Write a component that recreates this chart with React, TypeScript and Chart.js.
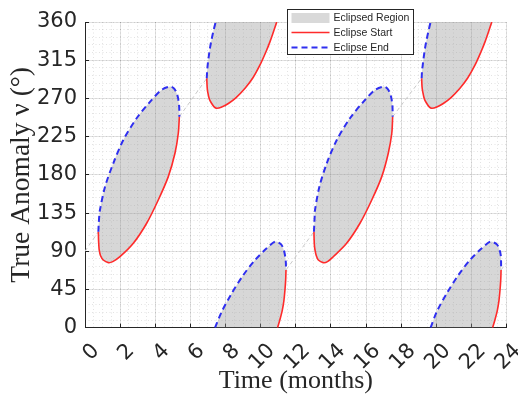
import React, { useEffect, useRef } from "react";
import { Chart, registerables } from "chart.js";

Chart.register(...registerables);

type P = [number, number];

// Axis ticks
const xTickValues = [0, 2, 4, 6, 8, 10, 12, 14, 16, 18, 20, 22, 24];
const yTickValues = [0, 45, 90, 135, 180, 225, 270, 315, 360];

// Eclipse region 1 (year 1)
const start1: P[] = [[0.76, 113], [0.77, 104], [0.79, 96], [0.81, 91.5], [0.88, 85], [1.04, 79.7], [1.33, 76.6], [1.58, 77.8], [1.99, 83.6], [2.75, 99.4], [3.51, 123], [4.17, 150.4], [4.74, 177.9], [5.12, 205.4], [5.31, 229], [5.37, 248.5]];
const end1: P[] = [[0.76, 113], [0.78, 122], [0.81, 131], [0.85, 138.6], [1.14, 166], [1.61, 193.6], [2.18, 221], [2.94, 246.6], [3.7, 266], [4.36, 280], [4.84, 283.9], [5.05, 282], [5.2, 277], [5.3, 270], [5.36, 260], [5.37, 248.5]];

// Eclipse region 2 (wraps through 360 -> 0)
const start2Top: P[] = [[6.93, 293.7], [6.95, 284], [6.98, 278], [7.08, 269], [7.21, 264], [7.35, 260], [7.49, 258.4], [7.75, 259.5], [8.16, 264], [8.6, 271], [9.11, 282], [9.55, 294], [9.96, 309.4], [10.3, 325], [10.53, 336.9], [10.75, 350], [10.91, 360]];
const end2Top: P[] = [[6.93, 293.7], [6.95, 302], [6.98, 309], [7.04, 319], [7.11, 329], [7.2, 339], [7.3, 348.6], [7.44, 360]];
const end2Bot: P[] = [[7.4, 0], [7.78, 18.8], [8.35, 40.5], [9.01, 62], [9.68, 79.7], [10.34, 93.5], [10.81, 101.3], [11.0, 100.5], [11.19, 97.4], [11.32, 91], [11.38, 85.6], [11.43, 77], [11.44, 68]];
const start2Bot: P[] = [[11.44, 68], [11.42, 56], [11.38, 44.4], [11.32, 32], [11.23, 20.8], [11.1, 10], [10.96, 0]];

// Eclipse region 3 (year 2)
const start3: P[] = [[13.03, 113], [13.04, 104], [13.06, 96], [13.09, 91.5], [13.16, 85], [13.28, 79.7], [13.56, 76.6], [13.8, 77.8], [14.13, 83.6], [14.89, 99.4], [15.65, 123], [16.32, 150.4], [16.89, 177.9], [17.26, 205.4], [17.46, 229], [17.51, 248.5]];
const end3: P[] = [[13.03, 113], [13.05, 122], [13.07, 131], [13.09, 138.6], [13.34, 166], [13.76, 193.6], [14.33, 221], [15.08, 246.6], [15.84, 266], [16.51, 280], [16.98, 283.9], [17.19, 282], [17.34, 277], [17.44, 270], [17.5, 260], [17.51, 248.5]];

// Eclipse region 4 (wraps through 360 -> 0)
const start4Top: P[] = [[19.16, 293.7], [19.18, 284], [19.22, 278], [19.32, 269], [19.45, 264], [19.59, 260], [19.73, 258.4], [19.99, 259.5], [20.39, 264], [20.83, 271], [21.34, 282], [21.78, 294], [22.2, 309.4], [22.54, 325], [22.77, 336.9], [22.99, 350], [23.15, 360]];
const end4Top: P[] = [[19.16, 293.7], [19.18, 302], [19.22, 309], [19.28, 319], [19.35, 329], [19.44, 339], [19.54, 348.6], [19.67, 360]];
const end4Bot: P[] = [[19.67, 0], [20.02, 18.8], [20.59, 40.5], [21.25, 62], [21.91, 79.7], [22.58, 93.5], [23.05, 101.3], [23.25, 100.5], [23.47, 97.4], [23.6, 91], [23.66, 85.6], [23.68, 77], [23.68, 68]];
const start4Bot: P[] = [[23.68, 68], [23.66, 56], [23.62, 44.4], [23.56, 32], [23.47, 20.8], [23.34, 10], [23.2, 0]];

// Orbit track (visible between eclipse regions)
const trackA: P[] = [[0, 90], [0.76, 113]];
const trackB: P[] = [[5.37, 248.5], [6.93, 293.7]];
const trackC: P[] = [[11.44, 68], [13.03, 113]];
const trackD: P[] = [[17.51, 248.5], [19.16, 293.7]];
const trackE: P[] = [[23.68, 68], [24, 77]];

const RED = "#ff2b2b";
const BLUE = "#2f2ff0";
const FILL = "rgba(150,150,150,0.38)";
const AXIS = "#262626";

const pts = (a: P[]) => a.map(([x, y]) => ({ x, y }));

const legendPlugin = {
  id: "boxLegend",
  afterDraw(chart: any) {
    const ctx = chart.ctx as CanvasRenderingContext2D;
    const x0 = 287.5, y0 = 9.5, w = 126, h = 45;
    ctx.save();
    ctx.fillStyle = "#ffffff";
    ctx.fillRect(x0, y0, w, h);
    ctx.strokeStyle = AXIS;
    ctx.lineWidth = 1;
    ctx.setLineDash([]);
    ctx.strokeRect(x0, y0, w, h);
    const sx = x0 + 4, ex = x0 + 42;
    ctx.fillStyle = "#d9d9d9";
    ctx.fillRect(sx, y0 + 3.5, ex - sx, 10);
    ctx.strokeStyle = RED;
    ctx.lineWidth = 1.6;
    ctx.beginPath();
    ctx.moveTo(sx, y0 + 23);
    ctx.lineTo(ex, y0 + 23);
    ctx.stroke();
    ctx.strokeStyle = BLUE;
    ctx.lineWidth = 2;
    ctx.setLineDash([6, 4]);
    ctx.beginPath();
    ctx.moveTo(sx, y0 + 38);
    ctx.lineTo(ex, y0 + 38);
    ctx.stroke();
    ctx.setLineDash([]);
    ctx.fillStyle = AXIS;
    ctx.font = '10.5px "Liberation Sans", Arial, sans-serif';
    ctx.textBaseline = "middle";
    ctx.textAlign = "left";
    const labels = ["Eclipsed Region", "Eclipse Start", "Eclipse End"];
    labels.forEach((t, i) => ctx.fillText(t, ex + 4, y0 + 8.5 + i * 15));
    ctx.restore();
  },
};

const zeroPad = (s: any) => {
  s.paddingLeft = 0;
  s.paddingRight = 0;
  s.paddingTop = 0;
  s.paddingBottom = 0;
};

export default function App() {
  const ref = useRef<HTMLCanvasElement | null>(null);

  useEffect(() => {
    document.body.style.margin = "0";
    const canvas = ref.current;
    if (!canvas) return;

    const fillDs = (poly: P[]) => ({
      data: pts(poly),
      showLine: true,
      borderWidth: 0,
      borderColor: "rgba(0,0,0,0)",
      backgroundColor: FILL,
      fill: "shape",
      pointRadius: 0,
      tension: 0.3,
      order: 3,
    });
    const startDs = (a: P[]) => ({
      data: pts(a),
      showLine: true,
      borderColor: RED,
      borderWidth: 1.6,
      pointRadius: 0,
      fill: false,
      tension: 0.3,
      order: 2,
    });
    const endDs = (a: P[]) => ({
      data: pts(a),
      showLine: true,
      borderColor: BLUE,
      borderWidth: 2,
      borderDash: [6, 4],
      pointRadius: 0,
      fill: false,
      tension: 0.3,
      order: 1,
    });
    const trackDs = (a: P[]) => ({
      data: pts(a),
      showLine: true,
      borderColor: "#c9c9c9",
      borderWidth: 1,
      borderDash: [4, 3],
      pointRadius: 0,
      fill: false,
      order: 4,
    });

    const datasets: any[] = [
      trackDs(trackA), trackDs(trackB), trackDs(trackC), trackDs(trackD), trackDs(trackE),
      fillDs([...end1, ...start1.slice().reverse()]),
      fillDs([...end2Top, ...start2Top.slice().reverse()]),
      fillDs([...end2Bot, ...start2Bot]),
      fillDs([...end3, ...start3.slice().reverse()]),
      fillDs([...end4Top, ...start4Top.slice().reverse()]),
      fillDs([...end4Bot, ...start4Bot]),
      startDs(start1), startDs(start2Top), startDs(start2Bot), startDs(start3), startDs(start4Top), startDs(start4Bot),
      endDs(end1), endDs(end2Top), endDs(end2Bot), endDs(end3), endDs(end4Top), endDs(end4Bot),
    ];

    const gridMajor = "rgba(0,0,0,0.11)";
    const gridMinor = "rgba(0,0,0,0.11)";

    const chart = new Chart(canvas, {
      type: "line",
      data: { datasets },
      options: {
        animation: false,
        responsive: false,
        devicePixelRatio: 1,
        events: [],
        layout: { padding: { top: 22, right: 11.3, bottom: 0, left: 0 } },
        plugins: { legend: { display: false }, tooltip: { enabled: false } },
        scales: {
          xMinor: {
            type: "linear",
            position: "bottom",
            weight: 0,
            min: 0,
            max: 24,
            ticks: { display: false, stepSize: 0.5 },
            grid: { color: gridMinor, drawTicks: false, lineWidth: 1 },
            border: { display: false, dash: [1, 2.5] },
            afterFit: (s: any) => { s.height = 0; zeroPad(s); },
          },
          yMinor: {
            type: "linear",
            position: "left",
            weight: 0,
            min: 0,
            max: 360,
            ticks: { display: false, stepSize: 9 },
            grid: { color: gridMinor, drawTicks: false, lineWidth: 1 },
            border: { display: false, dash: [1, 2.5] },
            afterFit: (s: any) => { s.width = 0; zeroPad(s); },
          },
          xTickMarks: {
            type: "linear",
            position: "bottom",
            weight: 0,
            min: 0,
            max: 24,
            afterBuildTicks: (s: any) => { s.ticks = xTickValues.map((v) => ({ value: v })); },
            ticks: { display: false },
            grid: { color: AXIS, drawOnChartArea: false, drawTicks: true, tickLength: -4, lineWidth: 1 },
            border: { display: false },
            afterFit: (s: any) => { s.height = 0; zeroPad(s); },
          },
          yTickMarks: {
            type: "linear",
            position: "left",
            weight: 0,
            min: 0,
            max: 360,
            afterBuildTicks: (s: any) => { s.ticks = yTickValues.map((v) => ({ value: v })); },
            ticks: { display: false },
            grid: { color: AXIS, drawOnChartArea: false, drawTicks: true, tickLength: -4, lineWidth: 1 },
            border: { display: false },
            afterFit: (s: any) => { s.width = 0; zeroPad(s); },
          },
          x: {
            type: "linear",
            position: "bottom",
            weight: 1,
            min: 0,
            max: 24,
            afterBuildTicks: (s: any) => { s.ticks = xTickValues.map((v) => ({ value: v })); },
            ticks: {
              minRotation: 45,
              maxRotation: 45,
              autoSkip: false,
              padding: 11,
              labelOffset: 11,
              color: AXIS,
              font: { family: '"DejaVu Sans", sans-serif', size: 21 },
            },
            grid: { color: gridMajor, drawTicks: false },
            border: { display: true, color: AXIS, width: 1 },
            title: {
              display: true,
              text: "Time (months)",
              color: AXIS,
              font: { family: '"Liberation Serif", "Times New Roman", serif', size: 26 },
              padding: { top: 6, bottom: 6 },
            },
            afterFit: (s: any) => { s.height = 75.3; zeroPad(s); },
          },
          y: {
            type: "linear",
            position: "left",
            weight: 1,
            min: 0,
            max: 360,
            afterBuildTicks: (s: any) => { s.ticks = yTickValues.map((v) => ({ value: v })); },
            ticks: {
              padding: 8,
              color: AXIS,
              font: { family: '"DejaVu Sans", sans-serif', size: 21 },
            },
            grid: { color: gridMajor, drawTicks: false },
            border: { display: true, color: AXIS, width: 1 },
            title: {
              display: true,
              text: "True Anomaly ν (°)",
              color: AXIS,
              font: { family: '"Liberation Serif", "Times New Roman", serif', size: 27.5 },
              padding: { top: 5, bottom: 5 },
            },
            afterFit: (s: any) => { s.width = 85; zeroPad(s); },
          },
        },
      } as any,
      plugins: [legendPlugin],
    });

    return () => chart.destroy();
  }, []);

  return (
    <div style={{ width: 518, height: 403, position: "relative" }}>
      <canvas ref={ref} width={518} height={403} style={{ display: "block" }} />
    </div>
  );
}
